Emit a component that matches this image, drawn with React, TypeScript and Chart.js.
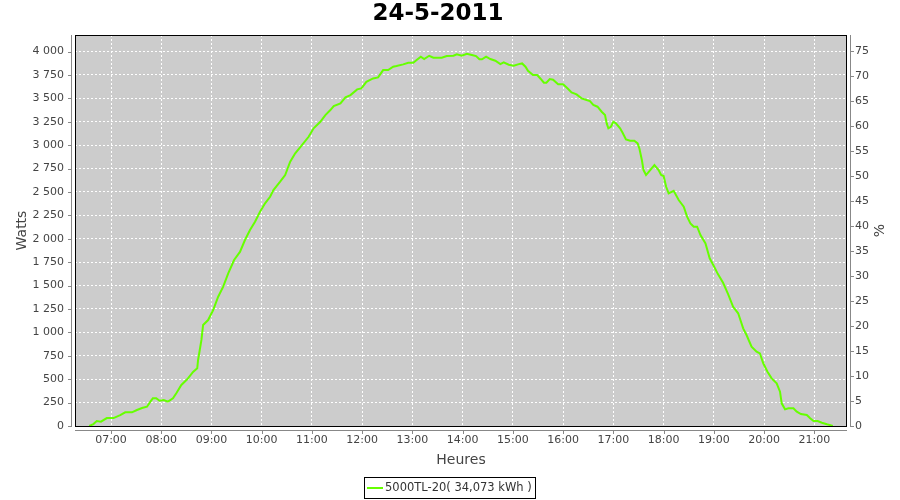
import React, { useEffect, useRef } from "react";
import { Chart, registerables } from "chart.js";

Chart.register(...registerables);

const TITLE = "24-5-2011";
const SERIES_LABEL = "5000TL-20( 34,073 kWh )";
const X_TITLE = "Heures";
const Y_TITLE = "Watts";
const Y2_TITLE = "%";
const SERIES_COLOR = "#66ff00";

const HOUR_TICKS = ["07:00", "08:00", "09:00", "10:00", "11:00", "12:00", "13:00", "14:00", "15:00", "16:00", "17:00", "18:00", "19:00", "20:00", "21:00"];
const WATT_TICKS = [0, 250, 500, 750, 1000, 1250, 1500, 1750, 2000, 2250, 2500, 2750, 3000, 3250, 3500, 3750, 4000];
const PCT_TICKS = [0, 5, 10, 15, 20, 25, 30, 35, 40, 45, 50, 55, 60, 65, 70, 75];

const X_MIN = "06:17";
const X_MAX = "21:39";
const WATT_MAX = 4177;
const PCT_MAX = 78.3;

const times = [
  "06:34", "06:39", "06:43", "06:48", "06:55", "07:03", "07:11", "07:17", "07:25", "07:31",
  "07:37", "07:43", "07:47", "07:50", "07:54", "07:58", "08:03", "08:08", "08:14", "08:18",
  "08:24", "08:31", "08:38", "08:43", "08:44", "08:46", "08:48", "08:50", "08:56", "09:02",
  "09:08", "09:14", "09:20", "09:27", "09:34", "09:40", "09:46", "09:52", "09:58", "10:04",
  "10:10", "10:14", "10:22", "10:28", "10:34", "10:40", "10:48", "10:56", "11:02", "11:10",
  "11:16", "11:22", "11:26", "11:34", "11:40", "11:46", "11:54", "11:59", "12:05", "12:13",
  "12:19", "12:25", "12:31", "12:37", "12:41", "12:49", "12:55", "13:01", "13:05", "13:10",
  "13:14", "13:20", "13:25", "13:35", "13:41", "13:49", "13:53", "13:59", "14:05", "14:11",
  "14:16", "14:20", "14:23", "14:28", "14:33", "14:39", "14:45", "14:49", "14:55", "15:01",
  "15:07", "15:11", "15:15", "15:18", "15:24", "15:29", "15:33", "15:37", "15:40", "15:44",
  "15:48", "15:54", "16:00", "16:06", "16:10", "16:16", "16:22", "16:28", "16:32", "16:36",
  "16:41", "16:46", "16:50", "16:52", "16:54", "16:57", "17:00", "17:03", "17:08", "17:11",
  "17:15", "17:20", "17:25", "17:29", "17:31", "17:34", "17:36", "17:39", "17:44", "17:49",
  "17:54", "17:57", "18:00", "18:03", "18:06", "18:12", "18:18", "18:24", "18:28", "18:32",
  "18:36", "18:40", "18:44", "18:50", "18:55", "18:59", "19:05", "19:11", "19:17", "19:23",
  "19:29", "19:35", "19:39", "19:45", "19:51", "19:55", "19:59", "20:04", "20:09", "20:15",
  "20:19", "20:21", "20:25", "20:29", "20:35", "20:39", "20:44", "20:51", "20:55", "20:59",
  "21:04", "21:09", "21:15", "21:20", "21:22",
];

const watts = [
  0, 21, 53, 46, 85, 85, 117, 146, 146, 171,
  192, 206, 260, 296, 296, 270, 278, 260, 296, 349,
  438, 499, 577, 616, 705, 812, 919, 1079, 1132, 1239,
  1381, 1488, 1631, 1773, 1860, 1987, 2093, 2182, 2289, 2379,
  2449, 2521, 2610, 2681, 2823, 2913, 3001, 3090, 3180, 3250,
  3322, 3375, 3418, 3447, 3511, 3535, 3596, 3607, 3677, 3713,
  3724, 3802, 3802, 3838, 3845, 3863, 3880, 3880, 3909, 3945,
  3920, 3955, 3934, 3934, 3952, 3955, 3970, 3955, 3977, 3963,
  3952, 3917, 3917, 3945, 3920, 3902, 3866, 3884, 3859, 3848,
  3866, 3873, 3838, 3795, 3749, 3749, 3710, 3667, 3667, 3706,
  3700, 3650, 3650, 3600, 3564, 3543, 3500, 3482, 3471, 3429,
  3411, 3357, 3322, 3233, 3180, 3197, 3250, 3233, 3180, 3133,
  3062, 3047, 3047, 3019, 2966, 2841, 2734, 2681, 2734, 2788,
  2734, 2681, 2670, 2556, 2485, 2513, 2414, 2342, 2236, 2165,
  2129, 2129, 2040, 1951, 1791, 1725, 1620, 1530, 1410, 1274,
  1204, 1043, 972, 847, 794, 776, 670, 580, 509, 456,
  367, 242, 178, 189, 189, 153, 128, 117, 82, 53,
  53, 35, 18, 7, 0,
];

const toMin = (s: string) => {
  const [h, m] = s.split(":").map(Number);
  return h * 60 + m;
};
const fmtTime = (v: number) => {
  const h = Math.floor(v / 60);
  const m = Math.round(v - h * 60);
  return String(h).padStart(2, "0") + ":" + String(m).padStart(2, "0");
};
const fmtWatts = (v: number) => {
  if (v >= 1000) {
    return Math.floor(v / 1000) + " " + String(v % 1000).padStart(3, "0");
  }
  return String(v);
};

const FONT = "'DejaVu Sans', sans-serif";
const TEXT = "#444444";
const AXIS = "#888888";

const decorPlugin = {
  id: "decor",
  beforeDraw(chart: any) {
    const { ctx, chartArea } = chart;
    ctx.save();
    ctx.fillStyle = "#ffffff";
    ctx.fillRect(0, 0, chart.width, chart.height);
    ctx.fillStyle = "#cccccc";
    ctx.fillRect(chartArea.left, chartArea.top, chartArea.right - chartArea.left, chartArea.bottom - chartArea.top);
    ctx.restore();
  },
  afterDraw(chart: any) {
    const { ctx, chartArea } = chart;
    const { left, right, top, bottom } = chartArea;
    ctx.save();
    // plot frame
    ctx.strokeStyle = "#000000";
    ctx.lineWidth = 1;
    ctx.strokeRect(left + 0.5, top + 0.5, right - left - 1, bottom - top);

    // offset axis lines
    ctx.strokeStyle = AXIS;
    ctx.beginPath();
    ctx.moveTo(left - 3.5, top);
    ctx.lineTo(left - 3.5, bottom + 1);
    ctx.moveTo(right + 3.5, top);
    ctx.lineTo(right + 3.5, bottom + 1);
    ctx.moveTo(left, bottom + 4.5);
    ctx.lineTo(right, bottom + 4.5);
    // tick marks
    const ys = chart.scales.y;
    const y1 = chart.scales.y1;
    const xs = chart.scales.x;
    ys.ticks.forEach((t: any) => {
      const p = Math.round(ys.getPixelForValue(t.value)) + 0.5;
      ctx.moveTo(left - 7, p);
      ctx.lineTo(left - 3.5, p);
    });
    y1.ticks.forEach((t: any) => {
      const p = Math.round(y1.getPixelForValue(t.value)) + 0.5;
      ctx.moveTo(right + 3.5, p);
      ctx.lineTo(right + 7, p);
    });
    xs.ticks.forEach((t: any) => {
      const p = Math.round(xs.getPixelForValue(t.value)) + 0.5;
      ctx.moveTo(p, bottom + 4.5);
      ctx.lineTo(p, bottom + 8);
    });
    ctx.stroke();

    // title
    ctx.fillStyle = "#000000";
    ctx.textAlign = "center";
    ctx.textBaseline = "middle";
    ctx.font = `bold 23px ${FONT}`;
    ctx.fillText(TITLE, 438, 14);

    // axis titles
    ctx.fillStyle = TEXT;
    ctx.font = `14px ${FONT}`;
    ctx.fillText(X_TITLE, (left + right) / 2, 460);
    ctx.save();
    ctx.translate(22, (top + bottom) / 2);
    ctx.rotate(-Math.PI / 2);
    ctx.fillText(Y_TITLE, 0, 0);
    ctx.restore();
    ctx.save();
    ctx.translate(880, (top + bottom) / 2);
    ctx.rotate(-Math.PI / 2);
    ctx.fillText(Y2_TITLE, 0, 0);
    ctx.restore();

    // legend
    ctx.strokeStyle = "#000000";
    ctx.lineWidth = 1;
    ctx.strokeRect(364.5, 477.5, 171, 21);
    ctx.strokeStyle = SERIES_COLOR;
    ctx.lineWidth = 2;
    ctx.beginPath();
    ctx.moveTo(367, 488);
    ctx.lineTo(383, 488);
    ctx.stroke();
    ctx.fillStyle = "#333333";
    ctx.textAlign = "left";
    ctx.font = `11.5px ${FONT}`;
    ctx.fillText(chart.data.datasets[0].label, 385, 488.5);
    ctx.restore();
  },
};

export default function App() {
  const ref = useRef<HTMLCanvasElement>(null);

  useEffect(() => {
    if (!ref.current) return;
    const points = times.map((t, i) => ({ x: toMin(t), y: watts[i] }));
    const chart = new Chart(ref.current, {
      type: "line",
      data: {
        datasets: [
          {
            label: SERIES_LABEL,
            data: points,
            borderColor: SERIES_COLOR,
            backgroundColor: SERIES_COLOR,
            borderWidth: 2,
            pointRadius: 0,
            tension: 0,
            fill: false,
            yAxisID: "y",
          },
        ],
      },
      options: {
        responsive: false,
        animation: false,
        layout: { padding: { top: 35, left: 0, right: 0, bottom: 0 } },
        plugins: {
          legend: { display: false },
          title: { display: false },
          tooltip: { enabled: false },
        },
        scales: {
          x: {
            type: "linear",
            min: toMin(X_MIN),
            max: toMin(X_MAX),
            afterBuildTicks: (s: any) => {
              s.ticks = HOUR_TICKS.map((t) => ({ value: toMin(t) }));
            },
            afterFit: (s: any) => {
              s.height = 74;
            },
            grid: {
              color: "#ffffff",
              lineWidth: 1,
              drawTicks: false,
            },
            border: { display: false, dash: [2, 2] },
            ticks: {
              padding: 8,
              color: TEXT,
              font: { family: FONT, size: 11 },
              maxRotation: 0,
              autoSkip: false,
              callback: (v: any) => fmtTime(Number(v)),
            },
          },
          y: {
            type: "linear",
            position: "left",
            min: 0,
            max: WATT_MAX,
            afterBuildTicks: (s: any) => {
              s.ticks = WATT_TICKS.map((v) => ({ value: v }));
            },
            afterFit: (s: any) => {
              s.width = 75;
            },
            grid: {
              color: "#ffffff",
              lineWidth: 1,
              drawTicks: false,
            },
            border: { display: false, dash: [2, 2] },
            ticks: {
              padding: 11,
              color: TEXT,
              font: { family: FONT, size: 11 },
              autoSkip: false,
              callback: (v: any) => fmtWatts(Number(v)),
            },
          },
          y1: {
            type: "linear",
            position: "right",
            display: true,
            min: 0,
            max: PCT_MAX,
            afterBuildTicks: (s: any) => {
              s.ticks = PCT_TICKS.map((v) => ({ value: v }));
            },
            afterFit: (s: any) => {
              s.width = 53;
            },
            grid: { drawOnChartArea: false, drawTicks: false },
            border: { display: false },
            ticks: {
              padding: 8,
              color: TEXT,
              font: { family: FONT, size: 11 },
              autoSkip: false,
              callback: (v: any) => String(v),
            },
          },
        },
      },
      plugins: [decorPlugin],
    });
    return () => chart.destroy();
  }, []);

  return (
    <div style={{ position: "absolute", left: 0, top: 0, width: 900, height: 500, background: "#fff" }}>
      <canvas ref={ref} width={900} height={500} style={{ display: "block" }} />
    </div>
  );
}
